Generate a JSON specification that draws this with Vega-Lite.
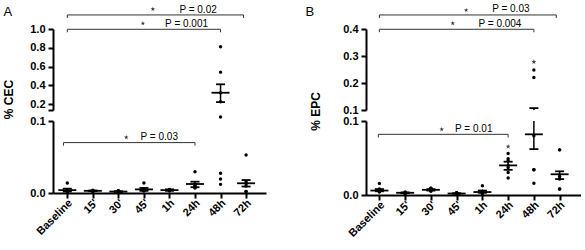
{
  "$schema": "https://vega.github.io/schema/vega-lite/v6.json",
  "padding": {"left": 2, "top": 4, "right": 0, "bottom": 0},
  "columns": 2,
  "bounds": "flush",
  "spacing": {"row": 11, "column": 100},
  "config": {
    "view": {"stroke": null},
    "font": "Liberation Sans",
    "axis": {"domainColor": "black", "domainWidth": 2, "tickColor": "black", "tickWidth": 2, "tickSize": 5, "labelFont": "Liberation Sans", "labelFontWeight": "bold", "labelFontSize": 11, "labelColor": "black", "labelPadding": 3, "labelOverlap": false, "labelFlush": false, "grid": false, "titleFont": "Liberation Sans", "titleFontSize": 12, "titleFontWeight": "bold", "titleColor": "black"}
  },
  "datasets": {
    "dotsA": [
      {"t": 0, "v": 0.014, "j": 0, "flag": "dot"}, {"t": 0, "v": 0.004, "j": -1, "flag": "dot"}, {"t": 0, "v": 0.003, "j": 1, "flag": "dot"}, {"t": 0, "v": 0.002, "j": -1, "flag": "dot"}, {"t": 0, "v": 0.003, "j": 1, "flag": "dot"}, {"t": 0, "v": 0.002, "j": 0, "flag": "dot"},
      {"t": 1, "v": 0.004, "j": 0, "flag": "dot"}, {"t": 1, "v": 0.003, "j": -1, "flag": "dot"}, {"t": 1, "v": 0.003, "j": 1, "flag": "dot"}, {"t": 1, "v": 0.002, "j": -1, "flag": "dot"}, {"t": 1, "v": 0.002, "j": 1, "flag": "dot"},
      {"t": 2, "v": 0.003, "j": -1, "flag": "dot"}, {"t": 2, "v": 0.003, "j": 1, "flag": "dot"}, {"t": 2, "v": 0.002, "j": 0, "flag": "dot"}, {"t": 2, "v": 0.001, "j": -1, "flag": "dot"}, {"t": 2, "v": 0.002, "j": 1, "flag": "dot"},
      {"t": 3, "v": 0.014, "j": 0, "flag": "dot"}, {"t": 3, "v": 0.005, "j": -1, "flag": "dot"}, {"t": 3, "v": 0.005, "j": 1, "flag": "dot"}, {"t": 3, "v": 0.004, "j": 0, "flag": "dot"}, {"t": 3, "v": 0.003, "j": -1, "flag": "dot"}, {"t": 3, "v": 0.003, "j": 1, "flag": "dot"},
      {"t": 4, "v": 0.005, "j": 0, "flag": "dot"}, {"t": 4, "v": 0.004, "j": -1, "flag": "dot"}, {"t": 4, "v": 0.004, "j": 1, "flag": "dot"}, {"t": 4, "v": 0.003, "j": -1, "flag": "dot"}, {"t": 4, "v": 0.003, "j": 1, "flag": "dot"},
      {"t": 5, "v": 0.0296, "j": 0, "flag": "dot"}, {"t": 5, "v": 0.012, "j": -1, "flag": "dot"}, {"t": 5, "v": 0.011, "j": 1, "flag": "dot"}, {"t": 5, "v": 0.009, "j": 0, "flag": "dot"}, {"t": 5, "v": 0.008, "j": -1, "flag": "dot"}, {"t": 5, "v": 0.007, "j": 1, "flag": "dot"},
      {"t": 6, "v": 0.0273, "j": 0, "flag": "dot"}, {"t": 6, "v": 0.0194, "j": 0, "flag": "dot"}, {"t": 6, "v": 0.012, "j": 0, "flag": "dot"}, {"t": 6, "v": 0.1055, "j": 0, "flag": "dot"}, {"t": 6, "v": 0.81, "j": 0, "flag": "dot"}, {"t": 6, "v": 0.54, "j": 0, "flag": "dot"}, {"t": 6, "v": 0.32, "j": 0, "flag": "dot"}, {"t": 6, "v": 0.225, "j": 0, "flag": "dot"},
      {"t": 7, "v": 0.0528, "j": 0, "flag": "dot"}, {"t": 7, "v": 0.0157, "j": 0, "flag": "dot"}, {"t": 7, "v": 0.013, "j": -1, "flag": "dot"}, {"t": 7, "v": 0.0097, "j": 1, "flag": "dot"}, {"t": 7, "v": 0.002, "j": -1, "flag": "dot"}, {"t": 7, "v": 0.002, "j": 1, "flag": "dot"}
    ],
    "statsA": [
      {"t": 0, "m": 0.004, "lo": 0.002, "hi": 0.006}, {"t": 1, "m": 0.003, "lo": 0.0025, "hi": 0.0035}, {"t": 2, "m": 0.002, "lo": 0.0015, "hi": 0.0025}, {"t": 3, "m": 0.005, "lo": 0.003, "hi": 0.007},
      {"t": 4, "m": 0.004, "lo": 0.003, "hi": 0.005}, {"t": 5, "m": 0.0125, "lo": 0.008, "hi": 0.0157}, {"t": 6, "m": 0.32, "lo": 0.22, "hi": 0.41}, {"t": 7, "m": 0.0135, "lo": 0.009, "hi": 0.018}
    ],
    "sigA": [
      {"seg": "upper", "x1": 0, "x2": 6.9, "y": 1.15, "yd": 1.118, "sx": 3.35, "sy": 1.213, "tx": 4.39, "ty": 1.174, "label": "P = 0.02"},
      {"seg": "upper", "x1": 0, "x2": 6, "y": 0.997, "yd": 0.965, "sx": 2.96, "sy": 1.06, "tx": 3.83, "ty": 1.025, "label": "P = 0.001"},
      {"seg": "lower", "x1": -0.15, "x2": 5, "y": 0.07, "yd": 0.0658, "sx": 2.31, "sy": 0.0774, "tx": 2.87, "ty": 0.0736, "label": "P = 0.03"}
    ],
    "dotsB": [
      {"t": 0, "v": 0.0157, "j": 0, "flag": "dot"}, {"t": 0, "v": 0.008, "j": -1, "flag": "dot"}, {"t": 0, "v": 0.007, "j": 1, "flag": "dot"}, {"t": 0, "v": 0.006, "j": -1, "flag": "dot"}, {"t": 0, "v": 0.005, "j": 1, "flag": "dot"}, {"t": 0, "v": 0.004, "j": 0, "flag": "dot"},
      {"t": 1, "v": 0.004, "j": 0, "flag": "dot"}, {"t": 1, "v": 0.003, "j": -1, "flag": "dot"}, {"t": 1, "v": 0.003, "j": 1, "flag": "dot"}, {"t": 1, "v": 0.002, "j": -1, "flag": "dot"}, {"t": 1, "v": 0.002, "j": 1, "flag": "dot"},
      {"t": 2, "v": 0.009, "j": -1, "flag": "dot"}, {"t": 2, "v": 0.009, "j": 1, "flag": "dot"}, {"t": 2, "v": 0.008, "j": -1, "flag": "dot"}, {"t": 2, "v": 0.008, "j": 1, "flag": "dot"}, {"t": 2, "v": 0.006, "j": 0, "flag": "dot"}, {"t": 2, "v": 0.005, "j": 0, "flag": "dot"},
      {"t": 3, "v": 0.003, "j": 0, "flag": "dot"}, {"t": 3, "v": 0.003, "j": -1, "flag": "dot"}, {"t": 3, "v": 0.002, "j": 1, "flag": "dot"}, {"t": 3, "v": 0.002, "j": -1, "flag": "dot"}, {"t": 3, "v": 0.001, "j": 1, "flag": "dot"},
      {"t": 4, "v": 0.0125, "j": 0, "flag": "dot"}, {"t": 4, "v": 0.005, "j": -1, "flag": "dot"}, {"t": 4, "v": 0.004, "j": 1, "flag": "dot"}, {"t": 4, "v": 0.003, "j": -1, "flag": "dot"}, {"t": 4, "v": 0.003, "j": 1, "flag": "dot"}, {"t": 4, "v": 0.002, "j": 0, "flag": "dot"},
      {"t": 5, "v": 0.0655, "j": 0, "flag": "star"}, {"t": 5, "v": 0.056, "j": 0, "flag": "dot"}, {"t": 5, "v": 0.049, "j": 0, "flag": "dot"}, {"t": 5, "v": 0.046, "j": 0, "flag": "dot"}, {"t": 5, "v": 0.04, "j": 0, "flag": "dot"}, {"t": 5, "v": 0.037, "j": 0, "flag": "dot"}, {"t": 5, "v": 0.0305, "j": 0, "flag": "dot"}, {"t": 5, "v": 0.023, "j": 0, "flag": "dot"},
      {"t": 6, "v": 0.278, "j": 0, "flag": "star"}, {"t": 6, "v": 0.248, "j": 0, "flag": "dot"}, {"t": 6, "v": 0.22, "j": 0, "flag": "dot"}, {"t": 6, "v": 0.08, "j": 0, "flag": "dot"}, {"t": 6, "v": 0.034, "j": -1, "flag": "dot"}, {"t": 6, "v": 0.034, "j": 1, "flag": "dot"}, {"t": 6, "v": 0.016, "j": 0, "flag": "dot"},
      {"t": 7, "v": 0.061, "j": -1, "flag": "dot"}, {"t": 7, "v": 0.061, "j": 1, "flag": "dot"}, {"t": 7, "v": 0.025, "j": 0, "flag": "dot"}, {"t": 7, "v": 0.0215, "j": 0, "flag": "dot"}, {"t": 7, "v": 0.008, "j": -1, "flag": "dot"}, {"t": 7, "v": 0.008, "j": 1, "flag": "dot"}
    ],
    "statsB": [
      {"t": 0, "m": 0.006, "lo": 0.005, "hi": 0.008}, {"t": 1, "m": 0.003, "lo": 0.0025, "hi": 0.0035}, {"t": 2, "m": 0.007, "lo": 0.006, "hi": 0.008}, {"t": 3, "m": 0.002, "lo": 0.0015, "hi": 0.0025},
      {"t": 4, "m": 0.004, "lo": 0.003, "hi": 0.006}, {"t": 5, "m": 0.04, "lo": 0.034, "hi": 0.045}, {"t": 6, "m": 0.082, "lo": 0.062, "hi": 0.107}, {"t": 7, "m": 0.028, "lo": 0.0215, "hi": 0.032}
    ],
    "sigB": [
      {"seg": "upper", "x1": 0, "x2": 6.87, "y": 0.452, "yd": 0.441, "sx": 3.37, "sy": 0.47, "tx": 4.38, "ty": 0.462, "label": "P = 0.03"},
      {"seg": "upper", "x1": 0, "x2": 6, "y": 0.399, "yd": 0.388, "sx": 2.85, "sy": 0.421, "tx": 3.85, "ty": 0.4085, "label": "P = 0.004"},
      {"seg": "lower", "x1": -0.04, "x2": 5, "y": 0.082, "yd": 0.0777, "sx": 2.42, "sy": 0.0888, "tx": 2.94, "ty": 0.0852, "label": "P = 0.01"}
    ]
  },
  "concat": [
    {
      "width": 213, "height": 81,
      "layer": [
        {"data": {"name": "sigA"}, "transform": [{"filter": "datum.seg == 'upper'"}],
         "mark": {"type": "rule", "color": "#333", "strokeWidth": 1},
         "encoding": {"x": {"field": "x1", "type": "quantitative", "scale": {"domain": [-0.56, 7.78], "nice": false, "zero": false},
                            "axis": {"orient": "top", "domain": false, "ticks": false, "labels": false, "title": "A", "titleX": -50, "titleY": -11, "titleAlign": "left", "titleAnchor": null, "titleBaseline": "bottom", "titleAngle": 0, "titleFontWeight": "normal", "titleFontSize": 13}},
                      "x2": {"field": "x2"},
                      "y": {"field": "y", "type": "quantitative", "scale": {"domain": [0.136, 1.0], "nice": false, "zero": false},
                            "axis": {"values": [0.136, 0.2, 0.4, 0.6, 0.8, 1.0], "tickCount": 20, "labelOverlap": false, "labelExpr": "datum.value < 0.15 ? '' : format(datum.value, '.1f')", "title": "% CEC", "titleX": -45, "titleY": 70, "titleAngle": 270, "titleBaseline": "middle", "titleAlign": "center"}}}},
        {"data": {"name": "sigA"}, "transform": [{"filter": "datum.seg == 'upper'"}],
         "mark": {"type": "rule", "color": "#333", "strokeWidth": 1},
         "encoding": {"x": {"field": "x1", "type": "quantitative"}, "y": {"field": "y", "type": "quantitative"}, "y2": {"field": "yd"}}},
        {"data": {"name": "sigA"}, "transform": [{"filter": "datum.seg == 'upper'"}],
         "mark": {"type": "rule", "color": "#333", "strokeWidth": 1},
         "encoding": {"x": {"field": "x2", "type": "quantitative"}, "y": {"field": "y", "type": "quantitative"}, "y2": {"field": "yd"}}},
        {"data": {"name": "sigA"}, "transform": [{"filter": "datum.seg == 'upper'"}],
         "mark": {"type": "point", "shape": "M0,-1L0.2245,-0.309L0.951,-0.309L0.363,0.118L0.588,0.809L0,0.382L-0.588,0.809L-0.363,0.118L-0.951,-0.309L-0.2245,-0.309Z", "filled": true, "color": "#333", "size": 22, "opacity": 1},
         "encoding": {"x": {"field": "sx", "type": "quantitative"}, "y": {"field": "sy", "type": "quantitative"}}},
        {"data": {"name": "sigA"}, "transform": [{"filter": "datum.seg == 'upper'"}],
         "mark": {"type": "text", "align": "left", "baseline": "alphabetic", "fontSize": 10, "color": "black"},
         "encoding": {"x": {"field": "tx", "type": "quantitative"}, "y": {"field": "ty", "type": "quantitative"}, "text": {"field": "label", "type": "nominal"}}},
        {"data": {"name": "statsA"},
         "mark": {"type": "rule", "color": "black", "strokeWidth": 1.5, "clip": true},
         "encoding": {"x": {"field": "t", "type": "quantitative"}, "y": {"field": "lo", "type": "quantitative"}, "y2": {"field": "hi"}}},
        {"data": {"name": "statsA"},
         "mark": {"type": "tick", "orient": "horizontal", "color": "black", "thickness": 1.8, "size": 18, "clip": true, "opacity": 1},
         "encoding": {"x": {"field": "t", "type": "quantitative"}, "y": {"field": "m", "type": "quantitative"}}},
        {"data": {"name": "statsA"},
         "mark": {"type": "tick", "orient": "horizontal", "color": "black", "thickness": 1.8, "size": 9, "clip": true, "opacity": 1},
         "encoding": {"x": {"field": "t", "type": "quantitative"}, "y": {"field": "lo", "type": "quantitative"}}},
        {"data": {"name": "statsA"},
         "mark": {"type": "tick", "orient": "horizontal", "color": "black", "thickness": 1.8, "size": 9, "clip": true, "opacity": 1},
         "encoding": {"x": {"field": "t", "type": "quantitative"}, "y": {"field": "hi", "type": "quantitative"}}},
        {"data": {"name": "dotsA"}, "transform": [{"filter": "datum.v > 0.11"}],
         "mark": {"type": "point", "filled": true, "color": "black", "size": 12, "opacity": 1},
         "encoding": {"x": {"field": "t", "type": "quantitative"}, "y": {"field": "v", "type": "quantitative"}}}
      ]
    },
    {
      "width": 215, "height": 81,
      "layer": [
        {"data": {"name": "sigB"}, "transform": [{"filter": "datum.seg == 'upper'"}],
         "mark": {"type": "rule", "color": "#333", "strokeWidth": 1},
         "encoding": {"x": {"field": "x1", "type": "quantitative", "scale": {"domain": [-0.52, 7.83], "nice": false, "zero": false},
                            "axis": {"orient": "top", "domain": false, "ticks": false, "labels": false, "title": "B", "titleX": -61, "titleY": -11, "titleAlign": "left", "titleAnchor": null, "titleBaseline": "bottom", "titleAngle": 0, "titleFontWeight": "normal", "titleFontSize": 13}},
                      "x2": {"field": "x2"},
                      "y": {"field": "y", "type": "quantitative", "scale": {"domain": [0.1, 0.4], "nice": false, "zero": false},
                            "axis": {"values": [0.1, 0.2, 0.3, 0.4], "tickCount": 20, "labelOverlap": false, "format": ".1f", "title": "% EPC", "titleX": -50.5, "titleY": 82, "titleAngle": 270, "titleBaseline": "middle", "titleAlign": "center"}}}},
        {"data": {"name": "sigB"}, "transform": [{"filter": "datum.seg == 'upper'"}],
         "mark": {"type": "rule", "color": "#333", "strokeWidth": 1},
         "encoding": {"x": {"field": "x1", "type": "quantitative"}, "y": {"field": "y", "type": "quantitative"}, "y2": {"field": "yd"}}},
        {"data": {"name": "sigB"}, "transform": [{"filter": "datum.seg == 'upper'"}],
         "mark": {"type": "rule", "color": "#333", "strokeWidth": 1},
         "encoding": {"x": {"field": "x2", "type": "quantitative"}, "y": {"field": "y", "type": "quantitative"}, "y2": {"field": "yd"}}},
        {"data": {"name": "sigB"}, "transform": [{"filter": "datum.seg == 'upper'"}],
         "mark": {"type": "point", "shape": "M0,-1L0.2245,-0.309L0.951,-0.309L0.363,0.118L0.588,0.809L0,0.382L-0.588,0.809L-0.363,0.118L-0.951,-0.309L-0.2245,-0.309Z", "filled": true, "color": "#333", "size": 22, "opacity": 1},
         "encoding": {"x": {"field": "sx", "type": "quantitative"}, "y": {"field": "sy", "type": "quantitative"}}},
        {"data": {"name": "sigB"}, "transform": [{"filter": "datum.seg == 'upper'"}],
         "mark": {"type": "text", "align": "left", "baseline": "alphabetic", "fontSize": 10, "color": "black"},
         "encoding": {"x": {"field": "tx", "type": "quantitative"}, "y": {"field": "ty", "type": "quantitative"}, "text": {"field": "label", "type": "nominal"}}},
        {"data": {"name": "statsB"},
         "mark": {"type": "rule", "color": "black", "strokeWidth": 1.5, "clip": true},
         "encoding": {"x": {"field": "t", "type": "quantitative"}, "y": {"field": "lo", "type": "quantitative"}, "y2": {"field": "hi"}}},
        {"data": {"name": "statsB"},
         "mark": {"type": "tick", "orient": "horizontal", "color": "black", "thickness": 1.8, "size": 18, "clip": true, "opacity": 1},
         "encoding": {"x": {"field": "t", "type": "quantitative"}, "y": {"field": "m", "type": "quantitative"}}},
        {"data": {"name": "statsB"},
         "mark": {"type": "tick", "orient": "horizontal", "color": "black", "thickness": 1.8, "size": 9, "clip": true, "opacity": 1},
         "encoding": {"x": {"field": "t", "type": "quantitative"}, "y": {"field": "lo", "type": "quantitative"}}},
        {"data": {"name": "statsB"},
         "mark": {"type": "tick", "orient": "horizontal", "color": "black", "thickness": 1.8, "size": 9, "clip": true, "opacity": 1},
         "encoding": {"x": {"field": "t", "type": "quantitative"}, "y": {"field": "hi", "type": "quantitative"}}},
        {"data": {"name": "dotsB"}, "transform": [{"filter": "datum.v > 0.1 && datum.flag == 'dot'"}],
         "mark": {"type": "point", "filled": true, "color": "black", "size": 12, "opacity": 1},
         "encoding": {"x": {"field": "t", "type": "quantitative"}, "y": {"field": "v", "type": "quantitative"}}},
        {"data": {"name": "dotsB"}, "transform": [{"filter": "datum.v > 0.1 && datum.flag == 'star'"}],
         "mark": {"type": "point", "shape": "M0,-1L0.2245,-0.309L0.951,-0.309L0.363,0.118L0.588,0.809L0,0.382L-0.588,0.809L-0.363,0.118L-0.951,-0.309L-0.2245,-0.309Z", "filled": true, "color": "#444", "size": 28, "opacity": 1},
         "encoding": {"x": {"field": "t", "type": "quantitative"}, "y": {"field": "v", "type": "quantitative"}}}
      ]
    },
    {
      "width": 213, "height": 72,
      "layer": [
        {"data": {"name": "sigA"}, "transform": [{"filter": "datum.seg == 'lower'"}],
         "mark": {"type": "rule", "color": "#333", "strokeWidth": 1},
         "encoding": {"x": {"field": "x1", "type": "quantitative", "scale": {"domain": [-0.56, 7.78], "nice": false, "zero": false},
                            "axis": {"values": [0, 1, 2, 3, 4, 5, 6, 7], "tickCount": 20, "labelOverlap": false, "labelExpr": "[\"Baseline\", \"15'\", \"30'\", \"45'\", \"1h\", \"24h\", \"48h\", \"72h\"][datum.value]", "labelAngle": 315, "labelAlign": "right", "labelBaseline": "middle", "labelOffset": 3, "labelPadding": 3, "title": null}},
                      "x2": {"field": "x2"},
                      "y": {"field": "y", "type": "quantitative", "scale": {"domain": [0, 0.1], "nice": false, "zero": false},
                            "axis": {"values": [0, 0.1], "tickCount": 20, "labelOverlap": false, "format": ".1f", "title": null}}}},
        {"data": {"name": "sigA"}, "transform": [{"filter": "datum.seg == 'lower'"}],
         "mark": {"type": "rule", "color": "#333", "strokeWidth": 1},
         "encoding": {"x": {"field": "x1", "type": "quantitative"}, "y": {"field": "y", "type": "quantitative"}, "y2": {"field": "yd"}}},
        {"data": {"name": "sigA"}, "transform": [{"filter": "datum.seg == 'lower'"}],
         "mark": {"type": "rule", "color": "#333", "strokeWidth": 1},
         "encoding": {"x": {"field": "x2", "type": "quantitative"}, "y": {"field": "y", "type": "quantitative"}, "y2": {"field": "yd"}}},
        {"data": {"name": "sigA"}, "transform": [{"filter": "datum.seg == 'lower'"}],
         "mark": {"type": "point", "shape": "M0,-1L0.2245,-0.309L0.951,-0.309L0.363,0.118L0.588,0.809L0,0.382L-0.588,0.809L-0.363,0.118L-0.951,-0.309L-0.2245,-0.309Z", "filled": true, "color": "#333", "size": 22, "opacity": 1},
         "encoding": {"x": {"field": "sx", "type": "quantitative"}, "y": {"field": "sy", "type": "quantitative"}}},
        {"data": {"name": "sigA"}, "transform": [{"filter": "datum.seg == 'lower'"}],
         "mark": {"type": "text", "align": "left", "baseline": "alphabetic", "fontSize": 10, "color": "black"},
         "encoding": {"x": {"field": "tx", "type": "quantitative"}, "y": {"field": "ty", "type": "quantitative"}, "text": {"field": "label", "type": "nominal"}}},
        {"data": {"name": "statsA"},
         "mark": {"type": "rule", "color": "black", "strokeWidth": 1.5, "clip": true},
         "encoding": {"x": {"field": "t", "type": "quantitative"}, "y": {"field": "lo", "type": "quantitative"}, "y2": {"field": "hi"}}},
        {"data": {"name": "statsA"},
         "mark": {"type": "tick", "orient": "horizontal", "color": "black", "thickness": 1.8, "size": 18, "clip": true, "opacity": 1},
         "encoding": {"x": {"field": "t", "type": "quantitative"}, "y": {"field": "m", "type": "quantitative"}}},
        {"data": {"name": "statsA"},
         "mark": {"type": "tick", "orient": "horizontal", "color": "black", "thickness": 1.8, "size": 9, "clip": true, "opacity": 1},
         "encoding": {"x": {"field": "t", "type": "quantitative"}, "y": {"field": "lo", "type": "quantitative"}}},
        {"data": {"name": "statsA"},
         "mark": {"type": "tick", "orient": "horizontal", "color": "black", "thickness": 1.8, "size": 9, "clip": true, "opacity": 1},
         "encoding": {"x": {"field": "t", "type": "quantitative"}, "y": {"field": "hi", "type": "quantitative"}}},
        {"data": {"name": "dotsA"}, "transform": [{"filter": "datum.v <= 0.11 && datum.j == 0"}],
         "mark": {"type": "point", "filled": true, "color": "black", "size": 12, "opacity": 1},
         "encoding": {"x": {"field": "t", "type": "quantitative"}, "y": {"field": "v", "type": "quantitative"}}},
        {"data": {"name": "dotsA"}, "transform": [{"filter": "datum.v <= 0.11 && datum.j < 0"}],
         "mark": {"type": "point", "filled": true, "color": "black", "size": 12, "opacity": 1, "dx": -3.5},
         "encoding": {"x": {"field": "t", "type": "quantitative"}, "y": {"field": "v", "type": "quantitative"}}},
        {"data": {"name": "dotsA"}, "transform": [{"filter": "datum.v <= 0.11 && datum.j > 0"}],
         "mark": {"type": "point", "filled": true, "color": "black", "size": 12, "opacity": 1, "dx": 3.5},
         "encoding": {"x": {"field": "t", "type": "quantitative"}, "y": {"field": "v", "type": "quantitative"}}}
      ]
    },
    {
      "width": 215, "height": 74,
      "layer": [
        {"data": {"name": "sigB"}, "transform": [{"filter": "datum.seg == 'lower'"}],
         "mark": {"type": "rule", "color": "#333", "strokeWidth": 1},
         "encoding": {"x": {"field": "x1", "type": "quantitative", "scale": {"domain": [-0.52, 7.83], "nice": false, "zero": false},
                            "axis": {"values": [0, 1, 2, 3, 4, 5, 6, 7], "tickCount": 20, "labelOverlap": false, "labelExpr": "[\"Baseline\", \"15'\", \"30'\", \"45'\", \"1h\", \"24h\", \"48h\", \"72h\"][datum.value]", "labelAngle": 315, "labelAlign": "right", "labelBaseline": "middle", "labelOffset": 3, "labelPadding": 3, "title": null}},
                      "x2": {"field": "x2"},
                      "y": {"field": "y", "type": "quantitative", "scale": {"domain": [0, 0.1], "nice": false, "zero": false},
                            "axis": {"values": [0, 0.1], "tickCount": 20, "labelOverlap": false, "format": ".1f", "title": null}}}},
        {"data": {"name": "sigB"}, "transform": [{"filter": "datum.seg == 'lower'"}],
         "mark": {"type": "rule", "color": "#333", "strokeWidth": 1},
         "encoding": {"x": {"field": "x1", "type": "quantitative"}, "y": {"field": "y", "type": "quantitative"}, "y2": {"field": "yd"}}},
        {"data": {"name": "sigB"}, "transform": [{"filter": "datum.seg == 'lower'"}],
         "mark": {"type": "rule", "color": "#333", "strokeWidth": 1},
         "encoding": {"x": {"field": "x2", "type": "quantitative"}, "y": {"field": "y", "type": "quantitative"}, "y2": {"field": "yd"}}},
        {"data": {"name": "sigB"}, "transform": [{"filter": "datum.seg == 'lower'"}],
         "mark": {"type": "point", "shape": "M0,-1L0.2245,-0.309L0.951,-0.309L0.363,0.118L0.588,0.809L0,0.382L-0.588,0.809L-0.363,0.118L-0.951,-0.309L-0.2245,-0.309Z", "filled": true, "color": "#333", "size": 22, "opacity": 1},
         "encoding": {"x": {"field": "sx", "type": "quantitative"}, "y": {"field": "sy", "type": "quantitative"}}},
        {"data": {"name": "sigB"}, "transform": [{"filter": "datum.seg == 'lower'"}],
         "mark": {"type": "text", "align": "left", "baseline": "alphabetic", "fontSize": 10, "color": "black"},
         "encoding": {"x": {"field": "tx", "type": "quantitative"}, "y": {"field": "ty", "type": "quantitative"}, "text": {"field": "label", "type": "nominal"}}},
        {"data": {"name": "statsB"},
         "mark": {"type": "rule", "color": "black", "strokeWidth": 1.5, "clip": true},
         "encoding": {"x": {"field": "t", "type": "quantitative"}, "y": {"field": "lo", "type": "quantitative"}, "y2": {"field": "hi"}}},
        {"data": {"name": "statsB"},
         "mark": {"type": "tick", "orient": "horizontal", "color": "black", "thickness": 1.8, "size": 18, "clip": true, "opacity": 1},
         "encoding": {"x": {"field": "t", "type": "quantitative"}, "y": {"field": "m", "type": "quantitative"}}},
        {"data": {"name": "statsB"},
         "mark": {"type": "tick", "orient": "horizontal", "color": "black", "thickness": 1.8, "size": 9, "clip": true, "opacity": 1},
         "encoding": {"x": {"field": "t", "type": "quantitative"}, "y": {"field": "lo", "type": "quantitative"}}},
        {"data": {"name": "statsB"},
         "mark": {"type": "tick", "orient": "horizontal", "color": "black", "thickness": 1.8, "size": 9, "clip": true, "opacity": 1},
         "encoding": {"x": {"field": "t", "type": "quantitative"}, "y": {"field": "hi", "type": "quantitative"}}},
        {"data": {"name": "dotsB"}, "transform": [{"filter": "datum.v <= 0.1 && datum.j == 0 && datum.flag == 'dot'"}],
         "mark": {"type": "point", "filled": true, "color": "black", "size": 12, "opacity": 1},
         "encoding": {"x": {"field": "t", "type": "quantitative"}, "y": {"field": "v", "type": "quantitative"}}},
        {"data": {"name": "dotsB"}, "transform": [{"filter": "datum.v <= 0.1 && datum.flag == 'star'"}],
         "mark": {"type": "point", "shape": "M0,-1L0.2245,-0.309L0.951,-0.309L0.363,0.118L0.588,0.809L0,0.382L-0.588,0.809L-0.363,0.118L-0.951,-0.309L-0.2245,-0.309Z", "filled": true, "color": "#444", "size": 28, "opacity": 1},
         "encoding": {"x": {"field": "t", "type": "quantitative"}, "y": {"field": "v", "type": "quantitative"}}},
        {"data": {"name": "dotsB"}, "transform": [{"filter": "datum.v <= 0.1 && datum.j < 0"}],
         "mark": {"type": "point", "filled": true, "color": "black", "size": 12, "opacity": 1, "dx": -3.5},
         "encoding": {"x": {"field": "t", "type": "quantitative"}, "y": {"field": "v", "type": "quantitative"}}},
        {"data": {"name": "dotsB"}, "transform": [{"filter": "datum.v <= 0.1 && datum.j > 0"}],
         "mark": {"type": "point", "filled": true, "color": "black", "size": 12, "opacity": 1, "dx": 3.5},
         "encoding": {"x": {"field": "t", "type": "quantitative"}, "y": {"field": "v", "type": "quantitative"}}}
      ]
    }
  ]
}
